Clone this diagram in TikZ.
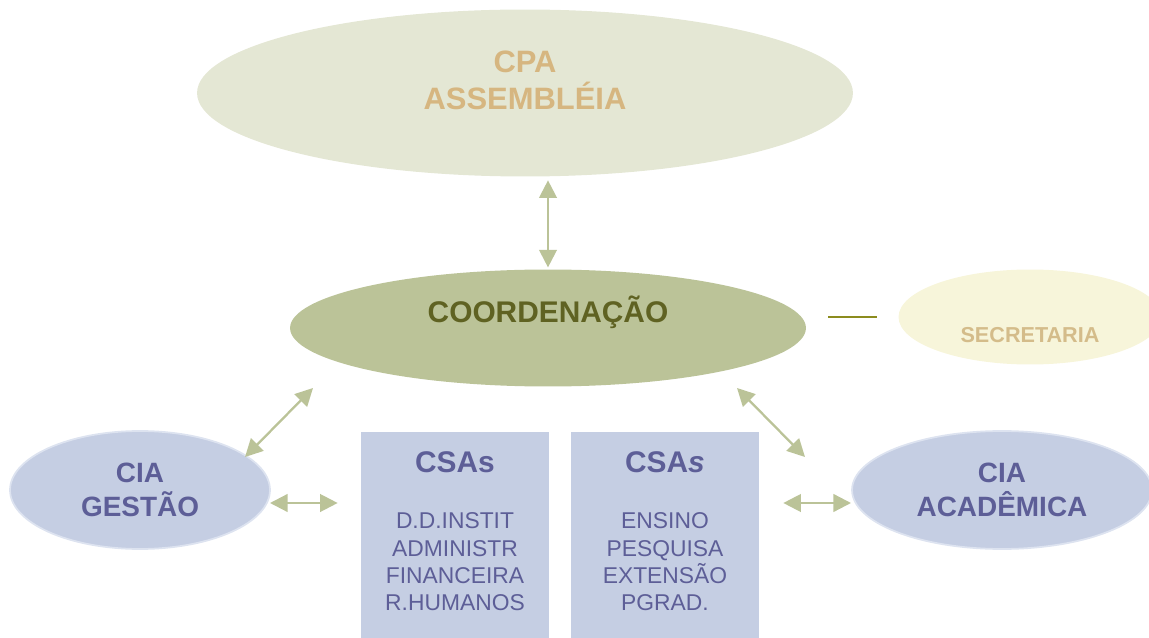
\documentclass[tikz,border=0pt]{standalone}
\usepackage{fontspec}
\setmainfont{Liberation Sans}
\usetikzlibrary{shapes.geometric,arrows.meta}
\definecolor{cpafill}{HTML}{E4E7D4}
\definecolor{cpatext}{HTML}{D6B680}
\definecolor{coordfill}{HTML}{BBC398}
\definecolor{coordtext}{HTML}{5F6222}
\definecolor{secfill}{HTML}{F7F5DA}
\definecolor{sectext}{HTML}{D4BC8A}
\definecolor{bluefill}{HTML}{C5CEE3}
\definecolor{blueedge}{HTML}{DDE3F0}
\definecolor{bluetext}{HTML}{5D5E97}
\definecolor{linkline}{HTML}{8C8C1E}

\begin{document}
\begin{tikzpicture}[x=.02cm,y=-.02cm,
    blob/.style={ellipse,inner sep=0pt,draw=none},
    ciablob/.style={blob,fill=bluefill,draw=blueedge,line width=1pt,
      minimum height=2.36cm,text=bluetext,align=center,
      font=\bfseries\fontsize{15.9}{19.3}\selectfont},
    csabox/.style={rectangle,fill=bluefill,inner sep=0pt,
      minimum width=3.76cm,minimum height=4.6cm},
    csatitle/.style={text=bluetext,font=\bfseries\fontsize{17}{20}\selectfont},
    csalist/.style={text=bluetext,align=center,font=\fontsize{13}{15.6}\selectfont},
    biarrow/.style={draw=coordfill,line width=1.3pt,
      {Triangle[length=10pt,width=10pt]}-{Triangle[length=10pt,width=10pt]}}]
  \useasboundingbox (0,0) rectangle (1149,638);
  \clip (0,0) rectangle (1149,638);
  % top level
  \node[blob,fill=cpafill,minimum width=13.12cm,minimum height=3.34cm] (cpa) at (525,93) {};
  \node[text=cpatext,align=center,font=\bfseries\fontsize{17.6}{21}\selectfont]
    (cpalbl) at ([yshift=.26cm]cpa.center) {CPA\\ASSEMBLÉIA};
  \node[blob,fill=coordfill,minimum width=10.32cm,minimum height=2.34cm] (coord) at (548,328) {};
  \node[text=coordtext,font=\bfseries\fontsize{17}{20}\selectfont]
    (coordlbl) at ([yshift=.32cm]coord.center) {COORDENAÇÃO};
  \node[blob,fill=secfill,minimum width=5.26cm,minimum height=1.9cm] (secr) at (1030,317) {};
  \node[text=sectext,font=\bfseries\fontsize{12.3}{15}\selectfont]
    (secrlbl) at ([yshift=-.36cm]secr.center) {SECRETARIA};
  \draw[linkline,line width=1.2pt] ([xshift=.44cm]coord.east |- secr.west) -- ([xshift=-.42cm]secr.west);
  % lower level
  \node[ciablob,minimum width=5.2cm] (gestao) at (140,490) {CIA\\GESTÃO};
  \node[ciablob,minimum width=6cm] (acad) at (1002,490) {CIA\\ACADÊMICA};
  \foreach \nm/\cx/\ttl/\lst in {%
    csaA/455/CSAs/{D.D.INSTIT\\ADMINISTR\\FINANCEIRA\\R.HUMANOS},
    csaB/665/CSA\textit{s}/{ENSINO\\PESQUISA\\EXTENSÃO\\PGRAD.}}{%
      \node[csabox,anchor=north] (\nm) at (\cx,432) {};
      \node[csatitle] (\nm t) at (\cx,462) {\ttl};
      \node[csalist] (\nm l) at (\cx,562) {\lst};
    }
  % connectors
  \coordinate (dl1) at (313,388);
  \coordinate (dl2) at (245,457);
  \coordinate (dr1) at (737,388);
  \coordinate (dr2) at (805,457);
  \coordinate (hl) at (270,503);
  \coordinate (hr) at (851,503);
  \draw[biarrow,shorten <=2pt,shorten >=1pt] (coord.north |- cpa.south) -- (coord.north);
  \foreach \a/\b in {dl1/dl2,dr1/dr2}{%
    \draw[biarrow] (\a) -- (\b);
  }
  \draw[biarrow,shorten >=.46cm] (hl) -- (csaA.west |- hl);
  \draw[biarrow,shorten <=.48cm] (csaB.east |- hr) -- (hr);
\end{tikzpicture}
\end{document}
